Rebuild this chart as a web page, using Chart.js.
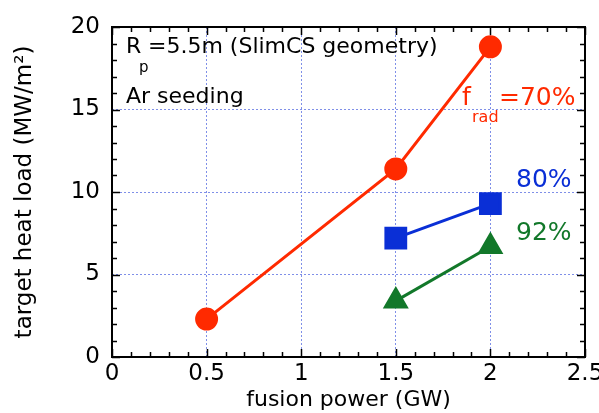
<!DOCTYPE html>
<html lang="en">
<head>
  <meta charset="UTF-8">
  <title>Target heat load vs fusion power</title>
  <script src="https://cdn.jsdelivr.net/npm/chart.js"></script>
  <style>
    html, body { margin: 0; padding: 0; background: #fff; }
  </style>
</head>
<body>
  <canvas id="heatChart" width="599" height="413"></canvas>

  <script>
    // data
    const powerRad70 = [0.5, 1.5, 2];
    const loadRad70 = [2.3, 11.4, 18.8];
    const powerRad80 = [1.5, 2];
    const loadRad80 = [7.2, 9.3];
    const powerRad92 = [1.5, 2];
    const loadRad92 = [3.4, 6.7];
    const xTicks = [0, 0.5, 1, 1.5, 2, 2.5];
    const yTicks = [0, 5, 10, 15, 20];

    const RED = '#ff2a00';
    const BLUE = '#0a2fd6';
    const GREEN = '#12782a';
    const FONT = '"DejaVu Sans", sans-serif';

    const pts = (xs, ys) => xs.map((x, i) => ({ x: x, y: ys[i] }));

    // inward major/minor ticks on all four sides + text labels
    const frame = {
      id: 'frame',
      afterDraw(chart) {
        const c = chart.ctx;
        const a = chart.chartArea;
        const xs = chart.scales.x, ys = chart.scales.y;
        c.save();
        c.strokeStyle = '#000';
        c.lineWidth = 2;
        c.strokeRect(a.left, a.top, a.right - a.left, a.bottom - a.top);
        c.lineWidth = 1.5;
        c.beginPath();
        for (let i = 0; i <= 25; i++) {
          const v = i / 10;
          const px = Math.round(xs.getPixelForValue(v)) + 0.5;
          const len = i % 5 === 0 ? 8 : 5;
          c.moveTo(px, a.bottom); c.lineTo(px, a.bottom - len);
          c.moveTo(px, a.top); c.lineTo(px, a.top + len);
        }
        for (let i = 0; i <= 20; i++) {
          const py = Math.round(ys.getPixelForValue(i)) + 0.5;
          const len = i % 5 === 0 ? 8 : 5;
          c.moveTo(a.left, py); c.lineTo(a.left + len, py);
          c.moveTo(a.right, py); c.lineTo(a.right - len, py);
        }
        c.stroke();

        // annotations
        c.textBaseline = 'middle';
        c.textAlign = 'left';
        c.fillStyle = '#000';
        c.font = '22px ' + FONT;
        c.fillText('R', 126, 47);
        c.fillText('=5.5m (SlimCS geometry)', 148, 47);
        c.font = '15px ' + FONT;
        c.fillText('p', 139, 68);
        c.font = '22px ' + FONT;
        c.fillText('Ar seeding', 126, 97);

        c.fillStyle = RED;
        c.font = '25px ' + FONT;
        c.fillText('f', 462, 98);
        c.fillText('=70%', 499, 98);
        c.font = '16px ' + FONT;
        c.fillText('rad', 472, 118);

        c.font = '25px ' + FONT;
        c.fillStyle = BLUE;
        c.fillText('80%', 516, 180);
        c.fillStyle = GREEN;
        c.fillText('92%', 516, 233);
        c.restore();
      }
    };

    const gridColor = ctx => {
      const v = ctx.tick ? ctx.tick.value : null;
      return (ctx.index === 0 || v === 2.5 || v === 20) ? 'rgba(0,0,0,0)' : '#7f8fe8';
    };

    new Chart(document.getElementById('heatChart'), {
      type: 'scatter',
      data: {
        datasets: [
          {
            label: 'f_rad = 70%',
            data: pts(powerRad70, loadRad70),
            showLine: true,
            borderColor: RED,
            backgroundColor: RED,
            borderWidth: 3,
            pointStyle: 'circle',
            pointRadius: 10,
            pointHoverRadius: 10
          },
          {
            label: '80%',
            data: pts(powerRad80, loadRad80),
            showLine: true,
            borderColor: BLUE,
            backgroundColor: BLUE,
            borderWidth: 3,
            pointStyle: 'rect',
            pointRadius: 14,
            pointHoverRadius: 14
          },
          {
            label: '92%',
            data: pts(powerRad92, loadRad92),
            showLine: true,
            borderColor: GREEN,
            backgroundColor: GREEN,
            borderWidth: 3,
            pointStyle: 'triangle',
            pointRadius: 12,
            pointHoverRadius: 12
          }
        ]
      },
      options: {
        responsive: false,
        animation: false,
        events: [],
        layout: { autoPadding: false, padding: { top: 27, right: 14, left: 0, bottom: 0 } },
        plugins: {
          legend: { display: false },
          tooltip: { enabled: false }
        },
        scales: {
          x: {
            type: 'linear',
            min: 0,
            max: 2.5,
            afterBuildTicks: s => { s.ticks = xTicks.map(v => ({ value: v })); },
            afterFit: s => { s.height = 56; s.paddingLeft = 0; s.paddingRight = 0; },
            border: { display: false, dash: [2, 2] },
            grid: { color: gridColor, lineWidth: 1, drawTicks: false },
            ticks: {
              color: '#000',
              font: { family: FONT, size: 23 },
              padding: 3,
              maxRotation: 0,
              callback: v => String(v)
            },
            title: {
              display: true,
              text: 'fusion power (GW)',
              color: '#000',
              font: { family: FONT, size: 22 },
              padding: { top: 0, bottom: 0 }
            }
          },
          y: {
            type: 'linear',
            min: 0,
            max: 20,
            afterBuildTicks: s => { s.ticks = yTicks.map(v => ({ value: v })); },
            afterFit: s => { s.width = 112; s.paddingTop = 0; s.paddingBottom = 0; },
            border: { display: false, dash: [2, 2] },
            grid: { color: gridColor, lineWidth: 1, drawTicks: false },
            ticks: {
              color: '#000',
              font: { family: FONT, size: 23 },
              padding: 12,
              callback: v => String(v)
            },
            title: {
              display: true,
              text: 'target heat load (MW/m²)',
              color: '#000',
              font: { family: FONT, size: 23 },
              padding: { top: 11, bottom: 0 }
            }
          }
        }
      },
      plugins: [frame]
    });
  </script>
</body>
</html>
